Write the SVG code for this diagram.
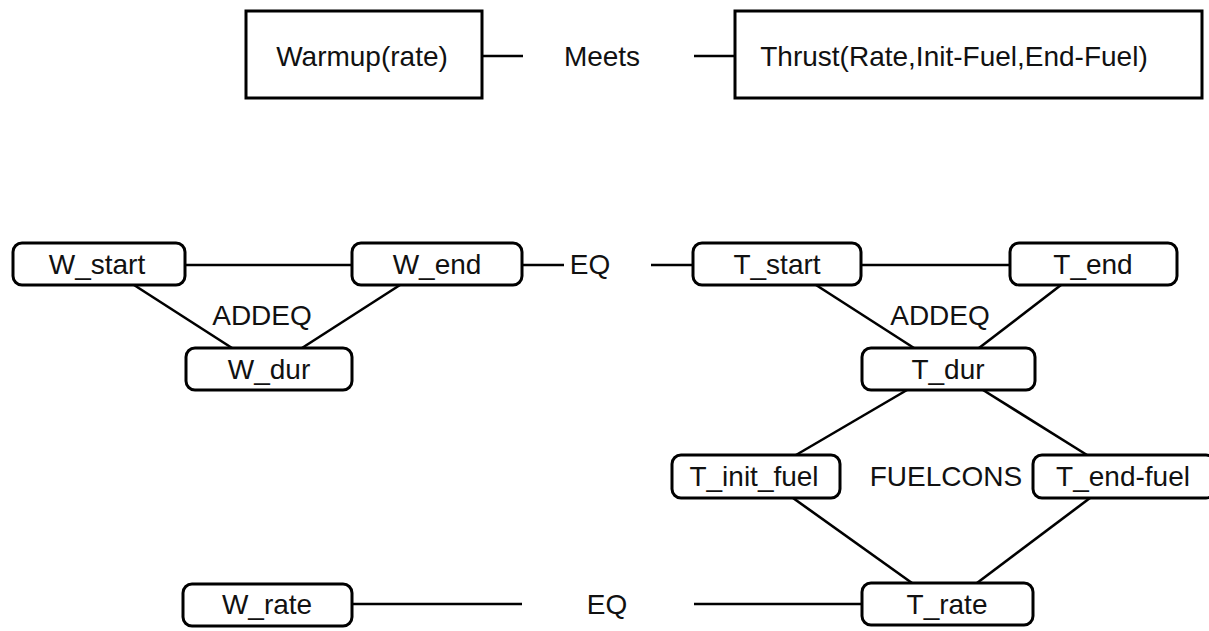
<svg xmlns="http://www.w3.org/2000/svg" width="1209" height="631" viewBox="0 0 1209 631">
<style>
.box{fill:#fff;stroke:#000;stroke-width:3}
.node{fill:#fff;stroke:#000;stroke-width:3}
.lbl{font-family:"Liberation Sans",Arial,sans-serif;font-size:28px;fill:#111;text-anchor:middle}
.con{stroke:#000;stroke-width:2.6;fill:none}
</style>
<rect width="1209" height="631" fill="#fff"/>
<g id="connectors">
<line class="con" x1="482" y1="56" x2="523" y2="56"/>
<line class="con" x1="694" y1="56" x2="735" y2="56"/>
<line class="con" x1="185" y1="265" x2="352" y2="265"/>
<line class="con" x1="522" y1="265" x2="564" y2="265"/>
<line class="con" x1="651" y1="265" x2="693" y2="265"/>
<line class="con" x1="861" y1="265" x2="1010" y2="265"/>
<line class="con" x1="134" y1="285" x2="232" y2="348"/>
<line class="con" x1="400" y1="285" x2="302" y2="348"/>
<line class="con" x1="816" y1="285" x2="914" y2="348"/>
<line class="con" x1="1061" y1="285" x2="979" y2="348"/>
<line class="con" x1="907" y1="390" x2="796" y2="455"/>
<line class="con" x1="983" y1="390" x2="1087" y2="455"/>
<line class="con" x1="793" y1="498" x2="912" y2="583"/>
<line class="con" x1="1090" y1="498" x2="977" y2="583"/>
<line class="con" x1="352" y1="604" x2="522" y2="604"/>
<line class="con" x1="694" y1="604" x2="862" y2="604"/>
</g>
<text class="lbl" x="602" y="66">Meets</text>
<text class="lbl" x="590" y="274">EQ</text>
<text class="lbl" x="262" y="325">ADDEQ</text>
<text class="lbl" x="940" y="325">ADDEQ</text>
<text class="lbl" x="946" y="486">FUELCONS</text>
<text class="lbl" x="607" y="614">EQ</text>
<g id="warmup"><rect class="box" x="246" y="11" width="236" height="87"/><text class="lbl" x="362" y="66">Warmup(rate)</text></g>
<g id="thrust"><rect class="box" x="735" y="11" width="467" height="87"/><text class="lbl" x="954" y="66">Thrust(Rate,Init-Fuel,End-Fuel)</text></g>
<g id="w_start"><rect class="node" x="13" y="243" width="172" height="42" rx="9"/><text class="lbl" x="97" y="274">W_start</text></g>
<g id="w_end"><rect class="node" x="352" y="243" width="170" height="42" rx="9"/><text class="lbl" x="437" y="274">W_end</text></g>
<g id="w_dur"><rect class="node" x="186" y="348" width="166" height="42" rx="9"/><text class="lbl" x="269" y="379">W_dur</text></g>
<g id="t_start"><rect class="node" x="693" y="243" width="168" height="42" rx="9"/><text class="lbl" x="777" y="274">T_start</text></g>
<g id="t_end"><rect class="node" x="1010" y="243" width="167" height="42" rx="9"/><text class="lbl" x="1093" y="274">T_end</text></g>
<g id="t_dur"><rect class="node" x="862" y="348" width="173" height="42" rx="9"/><text class="lbl" x="948" y="379">T_dur</text></g>
<g id="t_init_fuel"><rect class="node" x="672" y="455" width="168" height="43" rx="9"/><text class="lbl" x="754" y="486">T_init_fuel</text></g>
<g id="t_end_fuel"><rect class="node" x="1033" y="455" width="182" height="43" rx="9"/><text class="lbl" x="1123" y="486">T_end-fuel</text></g>
<g id="w_rate"><rect class="node" x="183" y="584" width="169" height="42" rx="9"/><text class="lbl" x="267" y="614">W_rate</text></g>
<g id="t_rate"><rect class="node" x="862" y="583" width="171" height="42" rx="9"/><text class="lbl" x="947" y="614">T_rate</text></g>
</svg>
